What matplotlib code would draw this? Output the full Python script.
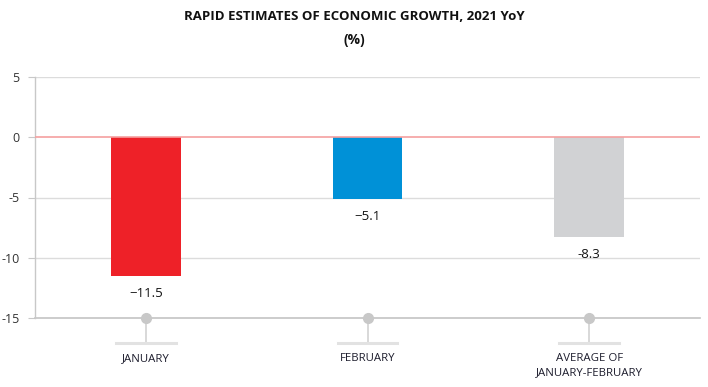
import matplotlib
matplotlib.use("Agg")
import matplotlib.pyplot as plt
import matplotlib.transforms as mtransforms

categories = ["JANUARY", "FEBRUARY", "AVERAGE OF\nJANUARY-FEBRUARY"]
values = [-11.5, -5.1, -8.3]
value_labels = ["\u221211.5", "\u22125.1", "-8.3"]
bar_colors = ["#ee2128", "#0091d7", "#d1d2d4"]
y_ticks = [5, 0, -5, -10, -15]
y_tick_labels = ["5", "0", "-5", "-10", "-15"]

plt.rcParams["font.family"] = ["Open Sans", "DejaVu Sans"]

fig = plt.figure(figsize=(7.08, 3.87), dpi=100)
ax = fig.add_axes([35 / 708, 1 - 318 / 387, 665 / 708, 241 / 387])

x = list(range(len(categories)))
ax.bar(x, values, width=0.315, color=bar_colors, zorder=3)
ax.set_xlim(-0.5, len(categories) - 0.5)
ax.set_ylim(-15, 5)

for yv in [5, -5, -10]:
    ax.axhline(yv, color="#dcdcdc", lw=1, zorder=1)
ax.axhline(0, color="#f5a0a0", lw=1.2, zorder=4)
ax.axhline(-15, color="#c4c4c4", lw=1.2, zorder=2, clip_on=False)

for s in ["top", "right", "bottom"]:
    ax.spines[s].set_visible(False)
ax.spines["left"].set_color("#c8c8c8")
ax.spines["left"].set_linewidth(1)

ax.set_yticks(y_ticks)
ax.set_yticklabels(y_tick_labels, fontsize=9, color="#333333")
ax.tick_params(axis="y", length=5, color="#c8c8c8", pad=6)
ax.set_xticks([])

for xi, v, lab in zip(x, values, value_labels):
    ax.annotate(lab, (xi, v), xytext=(0, -8), textcoords="offset points",
                ha="center", va="top", fontsize=9.5, color="#111111", zorder=5)

# category markers below the axis
trans = mtransforms.blended_transform_factory(ax.transData, ax.transAxes)
drop = 25 / 241
for xi, cat in zip(x, categories):
    ax.plot([xi, xi], [0, -drop], color="#d6d6d6", lw=1.3, transform=trans, clip_on=False, zorder=2)
    ax.plot([xi - 0.135, xi + 0.135], [-drop, -drop], color="#e2e2e2", lw=2.2,
            transform=trans, clip_on=False, zorder=2)
    ax.plot([xi], [0], marker="o", ms=7, color="#c8c8c8", transform=trans, clip_on=False, zorder=6)
    ax.text(xi, -drop - 0.04, cat, ha="center", va="top", fontsize=8.2, color="#1c1c2c",
            transform=trans, linespacing=1.4)

fig.text(0.5, 1 - 16 / 387, "RAPID ESTIMATES OF ECONOMIC GROWTH, 2021 YoY", ha="center", va="center",
         fontsize=9.5, fontweight="bold", color="#111111", fontstretch="condensed")
fig.text(0.5, 1 - 40 / 387, "(%)", ha="center", va="center",
         fontsize=10, fontweight="bold", color="#111111")

fig.savefig("out.png", dpi=100)
